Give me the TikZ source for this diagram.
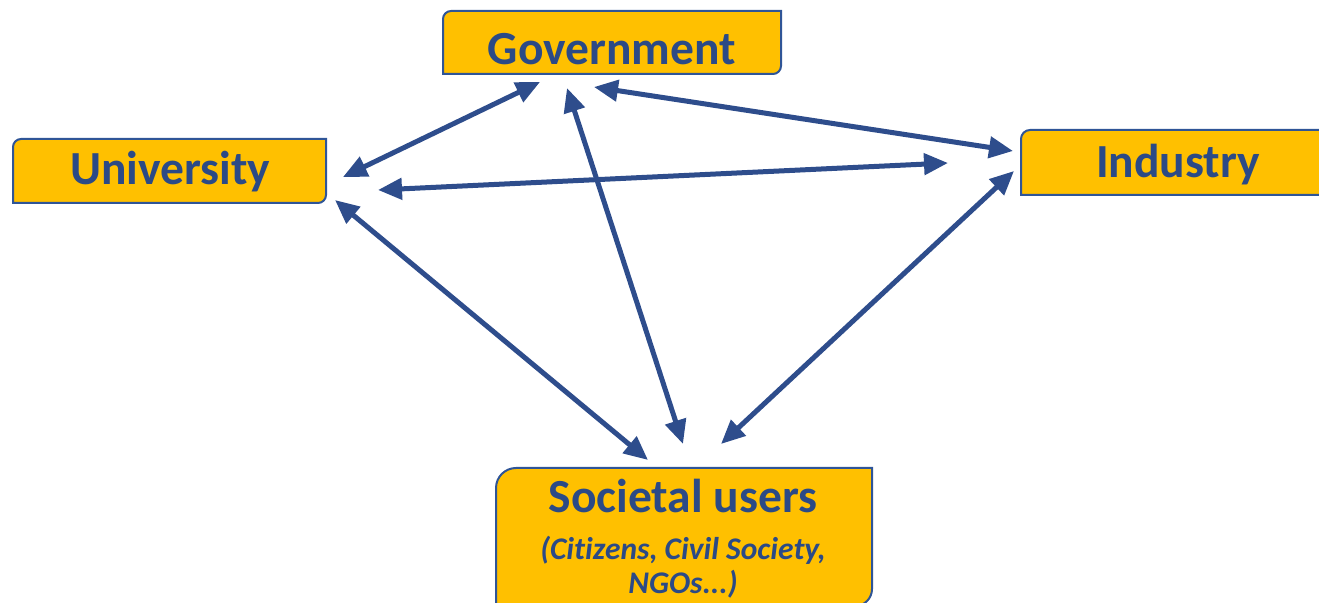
\documentclass[tikz,border=0pt]{standalone}
\usepackage{fontspec}
\setmainfont{Carlito}[Ligatures={NoCommon}]
\usetikzlibrary{arrows.meta}
\definecolor{boxfill}{HTML}{FFC000}
\definecolor{boxline}{HTML}{2F5597}
\definecolor{txtblue}{HTML}{2B4A86}
\definecolor{arrblue}{HTML}{2E4D8C}
\tikzset{
  boxtext/.style={text=txtblue,font=\fontsize{47.5}{56}\selectfont\bfseries,inner sep=0pt,anchor=base},
  subtext/.style={text=txtblue,font=\fontsize{31.5}{38}\selectfont\bfseries\itshape,inner sep=0pt,anchor=base},
  boxshape/.style={fill=boxfill,draw=boxline,line width=2pt},
  link/.style={draw=arrblue,line width=5pt,{Triangle[length=24pt,width=21pt]}-{Triangle[length=24pt,width=21pt]}}
}
\begin{document}
\begin{tikzpicture}[x=1pt,y=1pt]
\useasboundingbox (0,0) rectangle (1319,602);
% box outlines (top-left and bottom-right rounded)
\path[boxshape] (443,528) -- (443,583) arc[start angle=180,end angle=90,radius=8] -- (781,591) -- (781,536) arc[start angle=0,end angle=-90,radius=8] -- cycle;
\path[boxshape] (13,399) -- (13,455) arc[start angle=180,end angle=90,radius=8] -- (326,463) -- (326,407) arc[start angle=0,end angle=-90,radius=8] -- cycle;
\path[boxshape] (1021,407) -- (1021,463) arc[start angle=180,end angle=90,radius=9] -- (1335,472) -- (1335,407) -- cycle;
\path[boxshape] (496,-4) -- (496,114) arc[start angle=180,end angle=90,radius=20] -- (872,134) -- (872,13) arc[start angle=0,end angle=-90,radius=17] -- cycle;
% texts
\node[boxtext] (gov) at (612,537) {Government};
\node[boxtext] (uni) at (170,417) {University};
\node[boxtext] (ind) at (1178,424) {Industry};
\node[boxtext] (soc) at (683,89) {Societal users};
\node[subtext] (soc2) at (683,42) {(Citizens, Civil Society,};
\node[subtext] (soc3) at (683,9) {NGOs...)};
% arrow ends
\coordinate (gA) at (540,520);  \coordinate (uA) at (343,425);
\coordinate (uB) at (378,412);  \coordinate (iB) at (948,439);
\coordinate (gC) at (567,514);  \coordinate (sC) at (683,158);
\coordinate (gD) at (594,515);  \coordinate (iD) at (1013,451);
\coordinate (uE) at (335,402);  \coordinate (sE) at (648,142);
\coordinate (iF) at (1014,431); \coordinate (sF) at (721,158);
\draw[link] (gA) -- (uA);
\draw[link] (uB) -- (iB);
\draw[link] (gC) -- (sC);
\draw[link] (gD) -- (iD);
\draw[link] (uE) -- (sE);
\draw[link] (iF) -- (sF);
\end{tikzpicture}
\end{document}
